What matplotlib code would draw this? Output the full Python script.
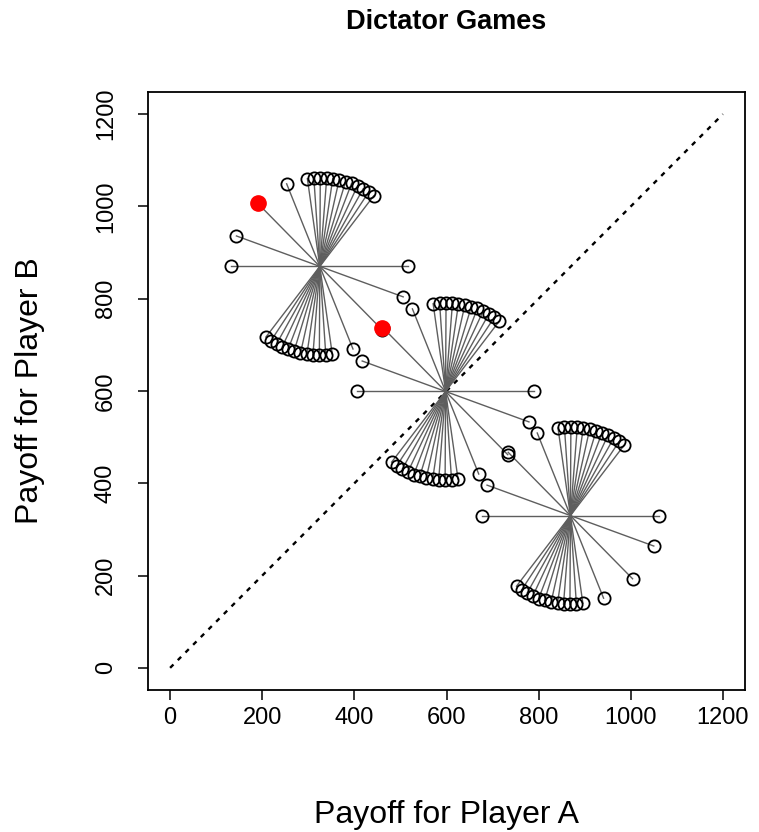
import matplotlib.pyplot as plt

plt.rcParams['font.family'] = ['Liberation Sans', 'DejaVu Sans']

# centre of each of the three dictator games (payoff A, payoff B)
center_a = [325, 598, 869]
center_b = [870, 599, 330]

# upper end of every choice line, measured from the game centre;
# the other end of the line sits on the opposite side of the centre
offset_a = [-192, -181, -135, -72, -27, -13, 1, 15, 28, 42, 56, 69, 82, 94, 106, 117]
offset_b = [0, 66, 137, 179, 190, 192, 192, 192, 190, 188, 184, 180, 175, 168, 161, 153]

# highlighted (chosen) allocations
chosen_a = [190, 461]
chosen_b = [1007, 737]

# equal split line
diag = [0, 1200]
ticks = [0, 200, 400, 600, 800, 1000, 1200]


def make_plot():
    fig = plt.figure(figsize=(7.59, 8.32), dpi=100)
    ax = fig.add_axes([148 / 759, 142 / 832, 597 / 759, 598 / 832])

    for cx, cy in zip(center_a, center_b):
        for dx, dy in zip(offset_a, offset_b):
            xs = [cx - dx, cx + dx]
            ys = [cy - dy, cy + dy]
            ax.plot(xs, ys, color='#5e5e5e', linewidth=1.0, zorder=2)
            ax.plot(xs, ys, linestyle='none', marker='o', markersize=8.8,
                    markerfacecolor='none', markeredgecolor='black',
                    markeredgewidth=1.3, zorder=3)

    ax.plot(diag, diag, color='black', linewidth=1.7,
            linestyle=(0, (2.0, 2.6)), zorder=1)

    ax.plot(chosen_a, chosen_b, linestyle='none', marker='o', markersize=11,
            color='#ff0000', zorder=4)

    ax.set_xlim(-48, 1248)
    ax.set_ylim(-48, 1248)
    ax.set_xticks(ticks)
    ax.set_yticks(ticks)
    ax.set_xticklabels([str(t) for t in ticks])
    ax.set_yticklabels([str(t) for t in ticks], rotation=90, va='center')
    ax.tick_params(axis='both', length=7.5, width=1.1, labelsize=17,
                   colors='black')
    ax.tick_params(axis='x', pad=5)
    ax.tick_params(axis='y', pad=15)
    for sp in ax.spines.values():
        sp.set_linewidth(1.3)

    ax.set_xlabel('Payoff for Player A', fontsize=23, va='center')
    ax.xaxis.set_label_coords(0.5, -0.209)
    ax.set_ylabel('Payoff for Player B', fontsize=23, va='center')
    ax.yaxis.set_label_coords(-0.198, 0.5)

    fig.text(446.5 / 759, 1 - 22 / 832, 'Dictator Games', ha='center',
             va='center', fontsize=19.5, fontweight='bold')

    fig.savefig('out.png', dpi=100)
    plt.close(fig)


if __name__ == '__main__':
    make_plot()
